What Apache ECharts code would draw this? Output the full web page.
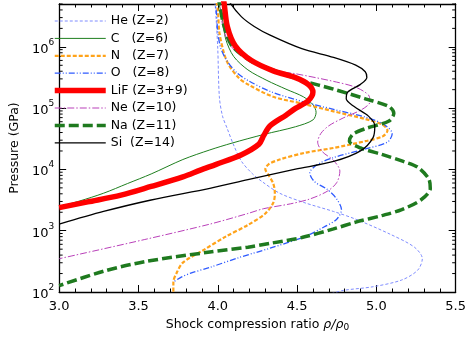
<!DOCTYPE html>
<html lang="en">
  <head>
    <meta charset="UTF-8" />
    <title>Shock Hugoniot</title>
    <script src="https://cdn.jsdelivr.net/npm/echarts@6/dist/echarts.min.js"></script>
  </head>
  <body style="margin: 0">
    <div id="main" style="height: 337px; width: 469px"></div>
  </body>
</html>
<script>
  // [compression ratio, pressure in GPa]
  const heData = [
    [3.98, 6.8e6], [3.99, 2.77e6], [4.0, 9.33e5], [4.01, 1.53e5], [4.03, 7.4e4],
    [4.06, 4.62e4], [4.1, 2.5e4], [4.15, 1.35e4], [4.22, 8.43e3], [4.28, 6.31e3],
    [4.39, 4.09e3], [4.55, 2.85e3], [4.73, 2.06e3], [4.87, 1.54e3], [5.08, 894],
    [5.24, 538], [5.29, 349], [5.26, 226], [5.16, 157], [4.98, 122], [4.79, 106], [4.7, 91]
  ]
  const cData = [
    [3.99, 6.8e6], [4.01, 4.76e6], [4.03, 2.77e6], [4.05, 1.34e6], [4.1, 6.98e5],
    [4.19, 4.21e5], [4.31, 2.83e5], [4.43, 2.04e5], [4.54, 1.53e5], [4.6, 1.14e5],
    [4.62, 8.55e4], [4.6, 6.41e4], [4.49, 4.97e4], [4.29, 3.72e4], [4.09, 2.69e4],
    [3.95, 2.08e4], [3.78, 1.45e4], [3.58, 8.43e3], [3.43, 5.87e3], [3.28, 4.09e3],
    [3.13, 3.06e3], [3.0, 2.46e3]
  ]
  const nData = [
    [3.98, 6.8e6], [4.0, 3.97e6], [4.01, 1.73e6], [4.04, 7.78e5], [4.07, 5.04e5],
    [4.13, 3.15e5], [4.19, 2.44e5], [4.35, 1.53e5], [4.53, 1.19e5], [4.73, 8.87e4],
    [4.93, 6.64e4], [5.04, 5.35e4], [5.07, 4.3e4], [5.04, 3.46e4], [4.93, 2.89e4],
    [4.73, 2.24e4], [4.55, 1.87e4], [4.39, 1.45e4], [4.32, 1.21e4], [4.3, 1.01e4],
    [4.32, 8.13e3], [4.35, 5.87e3], [4.36, 4.09e3], [4.35, 2.85e3], [4.3, 1.91e3],
    [4.19, 1.24e3], [4.05, 802], [3.91, 483], [3.78, 302], [3.74, 203], [3.72, 146], [3.72, 91]
  ]
  const oData = [
    [3.97, 6.8e6], [3.99, 3.97e6], [4.0, 1.73e6], [4.02, 9.33e5], [4.06, 5.83e5],
    [4.12, 3.78e5], [4.19, 2.83e5], [4.34, 1.83e5], [4.54, 1.27e5], [4.73, 9.54e4],
    [4.93, 7.14e4], [5.05, 5.35e4], [5.1, 3.86e4], [5.07, 2.79e4], [4.93, 2.16e4],
    [4.73, 1.56e4], [4.63, 1.21e4], [4.58, 8.75e3], [4.61, 6.31e3], [4.69, 4.73e3],
    [4.75, 3.29e3], [4.78, 2.21e3], [4.75, 1.54e3], [4.67, 1.15e3], [4.55, 802],
    [4.33, 519], [4.13, 362], [3.95, 252], [3.83, 203], [3.77, 175], [3.72, 146]
  ]
  const lifData = [
    [4.03, 6.8e6], [4.04, 5.12e6], [4.06, 2.15e6], [4.11, 1.04e6], [4.21, 6.04e5],
    [4.35, 4.06e5], [4.49, 3.15e5], [4.57, 2.44e5], [4.6, 1.83e5], [4.57, 1.32e5],
    [4.49, 9.89e4], [4.43, 7.67e4], [4.33, 5.15e4], [4.29, 3.59e4], [4.26, 2.59e4],
    [4.15, 1.74e4], [3.99, 1.21e4], [3.89, 9.75e3], [3.78, 7.57e3], [3.58, 5.27e3],
    [3.39, 3.8e3], [3.18, 2.95e3], [3.0, 2.38e3]
  ]
  const neData = [
    [4.01, 6.8e6], [4.03, 2.31e6], [4.08, 1.04e6], [4.21, 5.83e5], [4.37, 4.06e5],
    [4.49, 3.64e5], [4.73, 2.73e5], [4.87, 2.19e5], [4.95, 1.64e5], [4.96, 1.27e5],
    [4.91, 9.54e4], [4.79, 6.89e4], [4.7, 5.15e4], [4.65, 3.86e4], [4.63, 2.79e4],
    [4.66, 1.94e4], [4.73, 1.4e4], [4.77, 9.4e3], [4.75, 6.09e3], [4.69, 4.4e3],
    [4.58, 3.29e3], [4.46, 2.75e3], [4.29, 2.29e3], [4.19, 1.91e3], [3.95, 1.28e3],
    [3.54, 719], [3.0, 349]
  ]
  const naData = [
    [4.0, 6.8e6], [4.01, 5.12e6], [4.04, 2.15e6], [4.09, 1.04e6], [4.21, 5.83e5],
    [4.33, 4.36e5], [4.53, 2.83e5], [4.73, 2.04e5], [4.93, 1.42e5], [5.08, 1.06e5],
    [5.11, 8.26e4], [5.08, 6.18e4], [4.93, 4.62e4], [4.85, 3.72e4], [4.83, 2.89e4],
    [4.9, 2.24e4], [5.04, 1.74e4], [5.17, 1.35e4], [5.26, 1.09e4], [5.33, 7.04e3],
    [5.34, 4.9e3], [5.28, 3.17e3], [5.16, 2.21e3], [5.04, 1.78e3], [4.87, 1.38e3],
    [4.73, 1.07e3], [4.53, 773], [4.33, 622], [4.19, 538], [3.95, 449], [3.54, 313],
    [3.28, 218], [3.0, 127]
  ]
  const siData = [
    [4.06, 6.8e6], [4.08, 5.12e6], [4.15, 3.08e6], [4.23, 2.15e6], [4.33, 1.55e6],
    [4.53, 9.33e5], [4.73, 6.74e5], [4.87, 5.04e5], [4.93, 3.92e5], [4.94, 3.15e5],
    [4.9, 2.44e5], [4.82, 1.83e5], [4.81, 1.42e5], [4.86, 1.06e5], [4.95, 7.4e4],
    [4.99, 5.15e4], [4.98, 3.34e4], [4.9, 2.01e4], [4.73, 1.35e4], [4.49, 1.01e4],
    [4.19, 6.79e3], [3.95, 4.9e3], [3.58, 3.17e3], [3.28, 2.06e3], [3.0, 1.28e3]
  ]

  const seriesNames = ['He (Z=2)', 'C   (Z=6)', 'N   (Z=7)', 'O   (Z=8)', 'LiF (Z=3+9)', 'Ne (Z=10)', 'Na (Z=11)', 'Si  (Z=14)']
  const xRange = [3.0, 5.5]
  const pRange = [100, 5e6] // GPa, plotted on a log10 scale

  // minor ticks of the log axis at 2..9 x 10^n
  const yMinorTicks = []
  for (let e = 2; e <= 6; e++) {
    for (let k = 2; k <= 9; k++) {
      if (k * Math.pow(10, e) <= pRange[1]) yMinorTicks.push(k * Math.pow(10, e))
    }
  }

  const font = 'DejaVu Sans'
  const styles = [
    { color: '#7f8cff', width: 1, type: [3, 2] },
    { color: '#1f7f1f', width: 1, type: 'solid' },
    { color: '#ffa31a', width: 2.2, type: [4, 2] },
    { color: '#2f5bff', width: 1.3, type: [6, 2, 1, 2, 1, 2] },
    { color: '#ff0000', width: 5.5, type: 'solid' },
    { color: '#b940b9', width: 1, type: [7, 2, 1.5, 2] },
    { color: '#1f7a1f', width: 3.5, type: [10, 4] },
    { color: '#000000', width: 1.3, type: 'solid' }
  ]
  const allData = [heData, cData, nData, oData, lifData, neData, naData, siData]

  const lineSeries = allData.map((d, i) => ({
    name: seriesNames[i],
    type: 'line',
    data: d.map((p) => [p[0], Math.log10(p[1])]),
    symbol: 'none',
    smooth: 0.3,
    clip: true,
    lineStyle: styles[i],
    itemStyle: { color: styles[i].color },
    z: i === 4 ? 3 : 2
  }))

  const chartInstance = echarts.init(document.getElementById('main'))

  const tickStyle = { color: '#000', width: 1 }
  const axisLineStyle = { color: '#000', width: 1.3 }

  const option = {
    animation: false,
    textStyle: { fontFamily: font },
    grid: { left: 43, right: 12, top: 4, bottom: 35 },
    legend: {
      orient: 'vertical',
      left: 47,
      top: 9.5,
      itemWidth: 51,
      itemHeight: 12,
      itemGap: 4.4,
      data: seriesNames.map((n, i) => ({
        name: n,
        lineStyle: { width: styles[i].width, type: styles[i].type, color: styles[i].color }
      })),
      itemStyle: { opacity: 0 },
      textStyle: { fontFamily: font, fontSize: 12.5, color: '#000' }
    },
    xAxis: [
      {
        type: 'value',
        min: xRange[0],
        max: xRange[1],
        interval: 0.5,
        name: '{n|Shock compression ratio }{m|ρ/ρ}{sub|0}',
        nameLocation: 'middle',
        nameGap: 25,
        nameTextStyle: {
          rich: {
            n: { fontFamily: font, fontSize: 12.5, color: '#000' },
            m: { fontFamily: font, fontSize: 12.5, fontStyle: 'italic', color: '#000' },
            sub: { fontFamily: font, fontSize: 9, color: '#000', verticalAlign: 'bottom', padding: [6, 0, 0, 0] }
          }
        },
        axisLine: { lineStyle: axisLineStyle },
        axisTick: { inside: true, length: 7, lineStyle: tickStyle },
        minorTick: { show: true, splitNumber: 5, length: 3.5, lineStyle: tickStyle },
        splitLine: { show: false },
        axisLabel: {
          margin: 8,
          fontFamily: font,
          fontSize: 13,
          color: '#000',
          formatter: (v) => v.toFixed(1)
        }
      },
      {
        type: 'value',
        position: 'top',
        min: xRange[0],
        max: xRange[1],
        interval: 0.5,
        axisLine: { onZero: false, lineStyle: axisLineStyle },
        axisTick: { inside: true, length: 7, lineStyle: tickStyle },
        minorTick: { show: true, splitNumber: 5, length: 3.5, lineStyle: tickStyle },
        splitLine: { show: false },
        axisLabel: { show: false }
      }
    ],
    yAxis: [
      {
        type: 'value',
        min: Math.log10(pRange[0]),
        max: Math.log10(pRange[1]),
        interval: 1,
        name: 'Pressure (GPa)',
        nameLocation: 'middle',
        nameGap: 32,
        nameTextStyle: { fontFamily: font, fontSize: 12.5, color: '#000' },
        axisLine: { lineStyle: axisLineStyle },
        axisTick: { inside: true, length: 7, lineStyle: tickStyle },
        splitLine: { show: false },
        axisLabel: {
          margin: 5,
          showMaxLabel: false,
          formatter: (v) => (Number.isInteger(v) ? '{b|10}{s|' + v + '}' : ''),
          rich: {
            b: { fontFamily: font, fontSize: 13, color: '#000', lineHeight: 18, verticalAlign: 'bottom' },
            s: { fontFamily: font, fontSize: 9, color: '#000', verticalAlign: 'top', lineHeight: 10 }
          }
        }
      },
      {
        type: 'value',
        position: 'right',
        min: Math.log10(pRange[0]),
        max: Math.log10(pRange[1]),
        interval: 1,
        axisLine: { onZero: false, lineStyle: axisLineStyle },
        axisTick: { inside: true, length: 7, lineStyle: tickStyle },
        splitLine: { show: false },
        axisLabel: { show: false }
      }
    ],
    series: lineSeries.concat([
      {
        type: 'custom',
        silent: true,
        clip: false,
        data: yMinorTicks.map((v) => [xRange[0], Math.log10(v)]),
        renderItem: function (params, api) {
          const y = api.value(1)
          const p0 = api.coord([xRange[0], y])
          const p1 = api.coord([xRange[1], y])
          const st = { stroke: '#000', lineWidth: 1 }
          return {
            type: 'group',
            children: [
              { type: 'line', shape: { x1: p0[0], y1: p0[1], x2: p0[0] + 3.5, y2: p0[1] }, style: st },
              { type: 'line', shape: { x1: p1[0], y1: p1[1], x2: p1[0] - 3.5, y2: p1[1] }, style: st }
            ]
          }
        }
      }
    ])
  }

  chartInstance.setOption(option)

  window.addEventListener('resize', () => {
    chartInstance.resize()
  })
</script>
